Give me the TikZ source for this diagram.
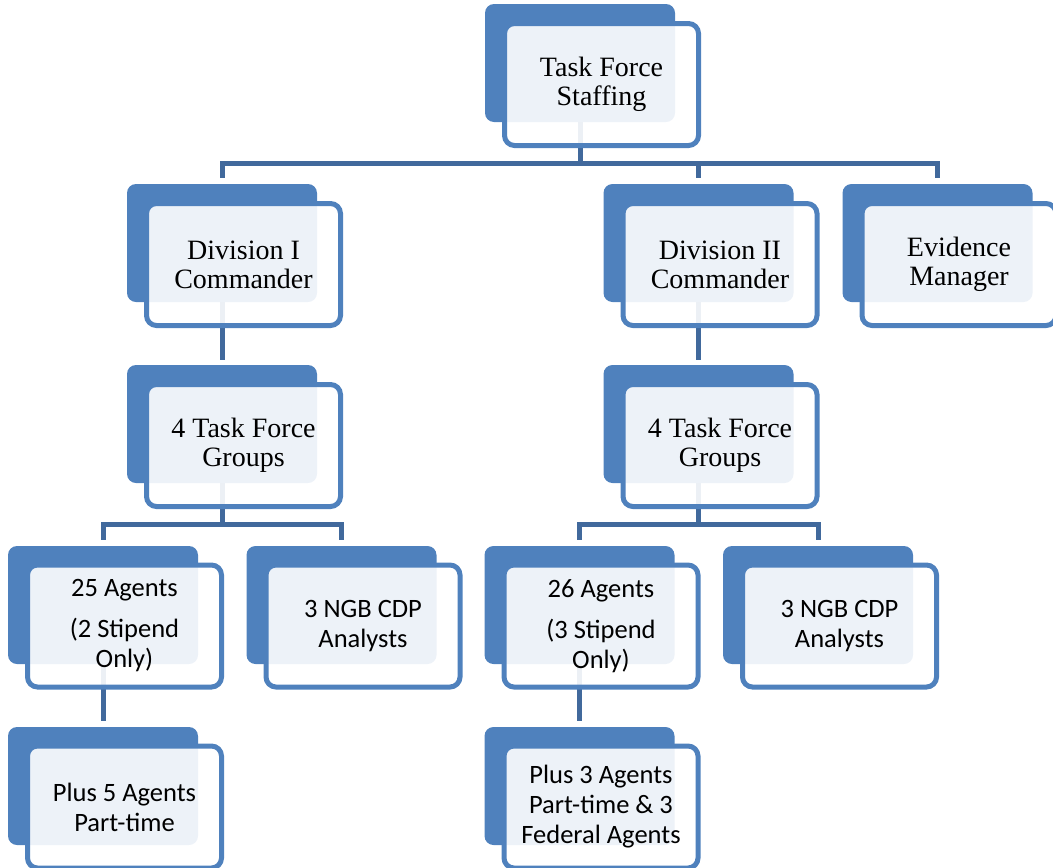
\documentclass[tikz,border=0pt]{standalone}
\usepackage{fontspec}
\setmainfont{Liberation Serif}
\newfontfamily\calibri{Carlito}
\definecolor{accent}{HTML}{4F81BD}
\definecolor{linkblue}{HTML}{41699C}
\begin{document}
\begin{tikzpicture}[x=1pt,y=-1pt,
  back/.style={fill=accent,rounded corners=9pt,minimum width=190pt,minimum height=118pt,inner sep=0pt},
  front/.style={draw=accent,line width=5pt,fill=white,fill opacity=0.9,text opacity=1,rounded corners=10pt,minimum width=194pt,minimum height=122pt,inner sep=0pt,align=center},
  serif/.style={font=\fontsize{28}{29}\selectfont},
  sans/.style={font=\calibri\fontsize{26.5}{30}\selectfont},
  link/.style={draw=linkblue,line width=5pt}]
\useasboundingbox (0,0) rectangle (1053,868);
% back plates
\node[back] (staffB) at (580,63) {};
\node[back] (div1B) at (222,243) {};
\node[back] (div2B) at (698.5,243) {};
\node[back] (evidB) at (937.5,243) {};
\node[back] (grp1B) at (222,424) {};
\node[back] (grp2B) at (698.5,424) {};
\node[back] (ag1B) at (103,605) {};
\node[back] (ngb1B) at (341.5,605) {};
\node[back] (ag2B) at (579.5,605) {};
\node[back] (ngb2B) at (818,605) {};
\node[back] (part1B) at (103,786) {};
\node[back] (part2B) at (579.5,786) {};
% connectors
\foreach \c in {div1B,div2B,evidB}
  \draw[link,shorten >=6pt] (staffB.south) |- ([yshift=20pt]\c.north) -- (\c.north);
\draw[link,shorten >=5pt] (div1B.south) -- (grp1B.north);
\draw[link,shorten >=5pt] (div2B.south) -- (grp2B.north);
\foreach \c in {ag1B,ngb1B}
  \draw[link,shorten >=6pt] (grp1B.south) |- ([yshift=21pt]\c.north) -- (\c.north);
\foreach \c in {ag2B,ngb2B}
  \draw[link,shorten >=6pt] (grp2B.south) |- ([yshift=21pt]\c.north) -- (\c.north);
\draw[link,shorten >=6pt] (ag1B.south) -- (part1B.north);
\draw[link,shorten >=6pt] (ag2B.south) -- (part2B.north);
% front boxes
\node[front,serif] (staff) at ([shift={(21.5,21.5)}]staffB) {Task Force\\Staffing};
\node[front,serif] (div1) at ([shift={(21.5,21.5)}]div1B) {Division I\\Commander};
\node[front,serif] (div2) at ([shift={(21.5,21.5)}]div2B) {Division II\\Commander};
\node[front,serif] (evid) at ([shift={(21.5,21.5)}]evidB) {Evidence\\Manager};
\node[front,serif] (grp1) at ([shift={(21.5,21.5)}]grp1B) {4 Task Force\\Groups};
\node[front,serif] (grp2) at ([shift={(21.5,21.5)}]grp2B) {4 Task Force\\Groups};
\node[front,sans] (ag1) at ([shift={(21.5,21)}]ag1B) {25 Agents\\[11pt](2 Stipend\\Only)};
\node[front,sans] (ngb1) at ([shift={(21.5,21)}]ngb1B) {3 NGB CDP\\Analysts};
\node[front,sans] (ag2) at ([shift={(21.5,21)}]ag2B) {26 Agents\\[11pt](3 Stipend\\Only)};
\node[front,sans] (ngb2) at ([shift={(21.5,21)}]ngb2B) {3 NGB CDP\\Analysts};
\node[front,sans] (part1) at ([shift={(21.5,21)}]part1B) {Plus 5 Agents\\Part-time};
\node[front,sans] (part2) at ([shift={(21.5,21)}]part2B) {Plus 3 Agents\\Part-time \& 3\\Federal Agents};
\end{tikzpicture}
\end{document}
